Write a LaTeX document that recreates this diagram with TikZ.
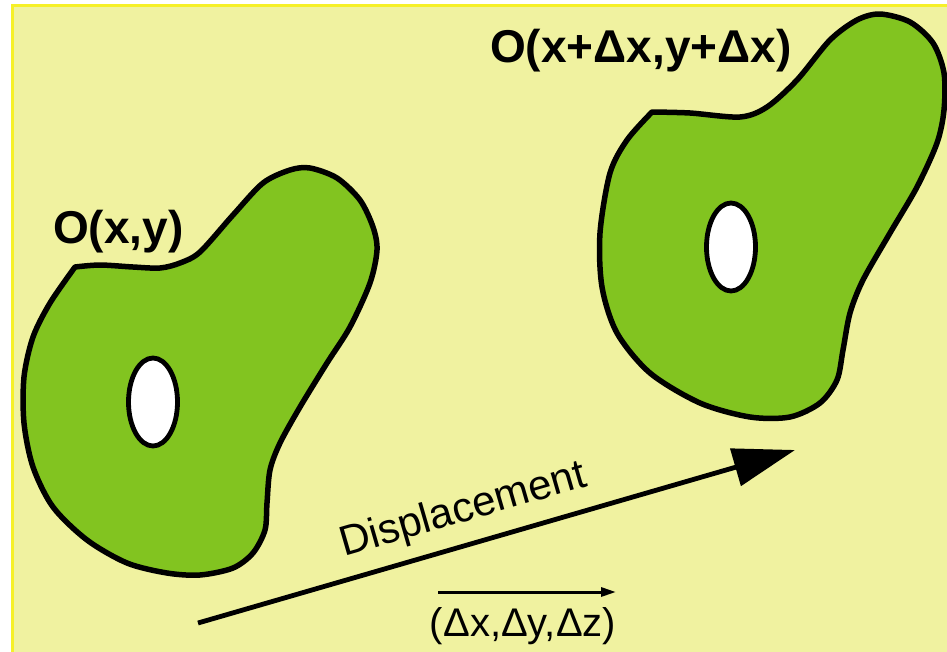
\documentclass[tikz,border=0pt]{standalone}
\usepackage{fontspec}
\setmainfont{Liberation Sans}
\usetikzlibrary{arrows.meta}
\definecolor{paper}{RGB}{240,242,160}
\definecolor{paperedge}{RGB}{246,240,40}
\definecolor{cellgreen}{RGB}{130,196,32}

\begin{document}
\begin{tikzpicture}[x=1pt, y=-1pt,
  cell/.style={draw=black, line width=5.5pt, fill=cellgreen, line join=round},
  hole/.style={draw=black, line width=4.8pt, fill=white},
  celllabel/.style={anchor=base west, inner sep=0pt, font={\bfseries\fontsize{46}{46}\selectfont}},
  shiftlabel/.style={inner sep=0pt, font={\fontsize{42}{42}\selectfont}},
  veclabel/.style={anchor=base, inner sep=0pt, font={\fontsize{40}{40}\selectfont}}]
\useasboundingbox (0,0) rectangle (947,651);
\draw[paperedge, line width=2.5pt, fill=paper] (12.5,5.5) rectangle (965,670);
\draw[cell] plot[smooth, tension=0.5] coordinates {(75,267) (100,265) (133,267) (160,268) (180,263) (200,252) (233,215) (263,183) (290,170) (310,168) (337,178) (360,200) (373,227) (377,250) (370,283) (350,327) (327,363) (300,407) (280,443) (270,470) (267,503) (265,530) (253,553) (233,568) (200,575) (167,573) (127,563) (87,540) (53,507) (33,467) (24,423) (24,377) (33,337) (50,303) (75,267)} -- cycle;
\draw[hole] (153,402) ellipse [x radius=24.5, y radius=44];
\draw[cell] plot[smooth, tension=0.5] coordinates {(652,112) (690,113) (740,117) (767,107) (797,80) (830,40) (857,20) (880,14) (910,22) (933,43) (944,73) (944,110) (937,143) (917,187) (890,233) (863,280) (850,313) (843,350) (837,380) (820,403) (790,417) (750,417) (700,403) (650,373) (617,333) (602,287) (600,233) (610,173) (627,140) (652,112)} -- cycle;
\draw[hole] (731,247) ellipse [x radius=24.5, y radius=44];
\node[celllabel] (start label) at (53,243) {O(x,y)};
\node[celllabel] (end label) at (490,62) {O(x+Δx,y+Δx)};
\coordinate (from) at (198,623);
\coordinate (to) at (795,450);
\draw[line width=4.8pt, -{Triangle[length=62pt, width=38pt]}] (from) -- node[shiftlabel, sloped, above=12pt, pos=0.46] (disp) {Displacement} (to);
\node[veclabel] (vec) at (523,636) {(Δx,Δy,Δz)};
\coordinate (vec left) at (438,592);
\coordinate (vec right) at (616,592);
\draw[line width=3pt, -{Triangle[length=15pt, width=9pt]}] (vec left) -- (vec right);
\end{tikzpicture}
\end{document}
